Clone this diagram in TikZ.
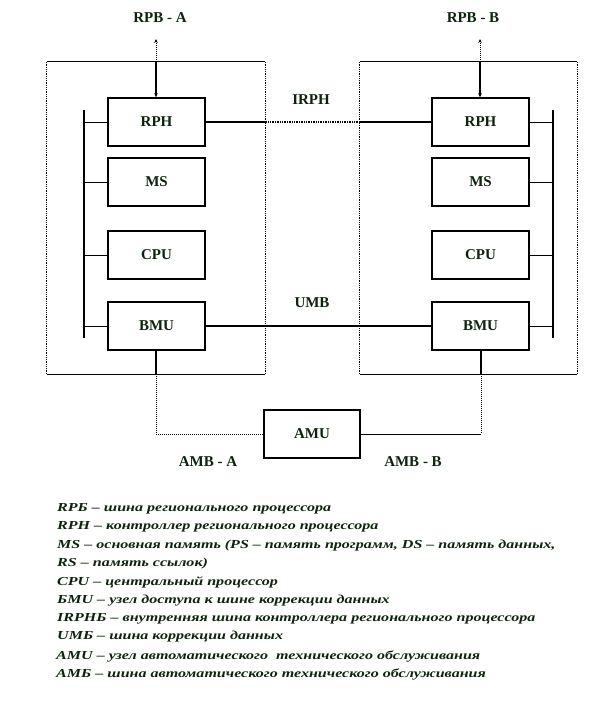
\documentclass[tikz,border=0pt]{standalone}
\usepackage{fontspec}
\setmainfont{Liberation Serif}
\usetikzlibrary{arrows.meta}
\definecolor{txt}{RGB}{12,36,12}
\definecolor{shade}{RGB}{110,110,110}
\newcommand{\legline}[1]{\scalebox{1.315}[1]{#1}}
\begin{document}
\begin{tikzpicture}[x=1pt,y=-1pt,
  unit/.style={draw=black,line width=1.5pt,minimum width=97pt,minimum height=48pt,inner sep=0pt,
    font=\fontsize{15}{16}\selectfont\bfseries,text=txt},
  frame/.style={minimum width=218pt,minimum height=312pt,inner sep=0pt},
  lbl/.style={font=\fontsize{15}{16}\selectfont\bfseries,text=txt,inner sep=0pt},
  leg/.style={anchor=west,inner sep=0pt,font=\fontsize{12.2}{13}\selectfont\bfseries\itshape,text=txt},
  bus/.style={line width=1.6pt,black},
  stub/.style={line width=0.7pt,black},
  solidlink/.style={line width=1.2pt,shade},
  midlink/.style={line width=1.4pt,black},
  dotlink/.style={line width=1pt,densely dotted,black},
  side/.style={line width=0.8pt,densely dotted,black},
  edge/.style={line width=0.8pt,black},
  tip/.style={-{Stealth[length=4pt,width=3.5pt]}}
]
\useasboundingbox (0,0) rectangle (612,710);
\fill[white] (0,0) rectangle (612,710);

% outer frames
\node[frame] (boxA) at (156,218) {};
\node[frame,minimum width=217pt] (boxB) at (468.5,218) {};
\foreach \b in {boxA,boxB}{
  \draw[edge] (\b.north west) -- (\b.north east);
  \draw[edge] (\b.south west) -- (\b.south east);
  \draw[side] (\b.north west) -- (\b.south west);
  \draw[side] (\b.north east) -- (\b.south east);
}

% units A
\node[unit] (rphA) at (156.5,122) {RPH};
\node[unit] (msA)  at (156.5,182) {MS};
\node[unit] (cpuA) at (156.5,255) {CPU};
\node[unit] (bmuA) at (156.5,326) {BMU};
% units B
\node[unit] (rphB) at (480.5,122) {RPH};
\node[unit] (msB)  at (480.5,182) {MS};
\node[unit] (cpuB) at (480.5,255) {CPU};
\node[unit] (bmuB) at (480.5,326) {BMU};
% AMU
\node[unit,minimum width=96pt] (amu) at (312,434) {AMU};

% buses
\coordinate (busAt) at (84,110);
\coordinate (busAb) at (84,338);
\coordinate (busBt) at (553,110);
\coordinate (busBb) at (553,338);
\draw[bus] (busAt) -- (busAb);
\draw[bus] (busBt) -- (busBb);
\foreach \u in {rphA,msA,cpuA,bmuA}{\draw[stub] (\u.west) -- (\u.west -| busAt);}
\foreach \u in {rphB,msB,cpuB,bmuB}{\draw[stub] (\u.east) -- (\u.east -| busBt);}

% IRPH link
\coordinate (irA) at (rphA.east -| boxA.east);
\coordinate (irB) at (rphB.west -| boxB.west);
\draw[solidlink] (rphA.east) -- (irA);
\draw[midlink,densely dotted] (irA) -- (irB);
\draw[solidlink] (irB) -- (rphB.west);
\node[lbl] (irph) at (311,100) {IRPH};

% UMB link
\coordinate (umA) at (bmuA.east -| boxA.east);
\coordinate (umB) at (bmuB.west -| boxB.west);
\draw[solidlink] (bmuA.east) -- (umA);
\draw[midlink] (umA) -- (umB);
\draw[solidlink] (umB) -- (bmuB.west);
\node[lbl] (umb) at (312,303) {UMB};

% RPB arrows
\node[lbl] (rpbA) at (160,18) {RPB - A};
\node[lbl] (rpbB) at (473,18) {RPB - B};
\coordinate (rpbAtip) at (156,39);
\coordinate (rpbAin) at (rpbAtip |- boxA.north);
\coordinate (rpbBtip) at (480,39);
\coordinate (rpbBin) at (rpbBtip |- boxB.north);
\draw[solidlink,tip] (rpbAin) -- (rpbAin |- rphA.north);
\draw[dotlink,tip] (rpbAin) -- (rpbAtip);
\draw[solidlink,tip] (rpbBin) -- (rpbBin |- rphB.north);
\draw[dotlink,tip] (rpbBin) -- (rpbBtip);

% AMB links
\coordinate (amA) at (156,374);
\coordinate (amB) at (481,374);
\draw[solidlink] (bmuA.south -| amA) -- (amA);
\draw[dotlink] (amA) |- (amu.west);
\draw[solidlink] (bmuB.south -| amB) -- (amB);
\draw[dotlink] (amB) -- (amB |- amu.east);
\draw[edge] (amu.east) -- (amu.east -| amB);
\node[lbl] (ambA) at (208,462) {AMB - A};
\node[lbl] (ambB) at (413,462) {AMB - B};

% legend
\node[leg] (l1)  at (57,509) {\legline{RPБ – шина регионального процессора}};
\node[leg] (l2)  at (57,527) {\legline{RPH – контроллер регионального процессора}};
\node[leg] (l3)  at (57,546) {\legline{MS – основная память (PS – память программ, DS – память данных,}};
\node[leg] (l4)  at (57,564) {\legline{RS – память ссылок)}};
\node[leg] (l5)  at (57,582) {\legline{CPU – центральный процессор}};
\node[leg] (l6)  at (57,601) {\legline{БMU – узел доступа к шине коррекции данных}};
\node[leg] (l7)  at (57,619) {\legline{IRPHБ – внутренняя шина контроллера регионального процессора}};
\node[leg] (l8)  at (57,637) {\legline{UMБ – шина коррекции данных}};
\node[leg] (l9)  at (56,656) {\legline{AMU – узел автоматического\ \ технического обслуживания}};
\node[leg] (l10) at (56,674) {\legline{AMБ – шина автоматического технического обслуживания}};
\end{tikzpicture}
\end{document}
